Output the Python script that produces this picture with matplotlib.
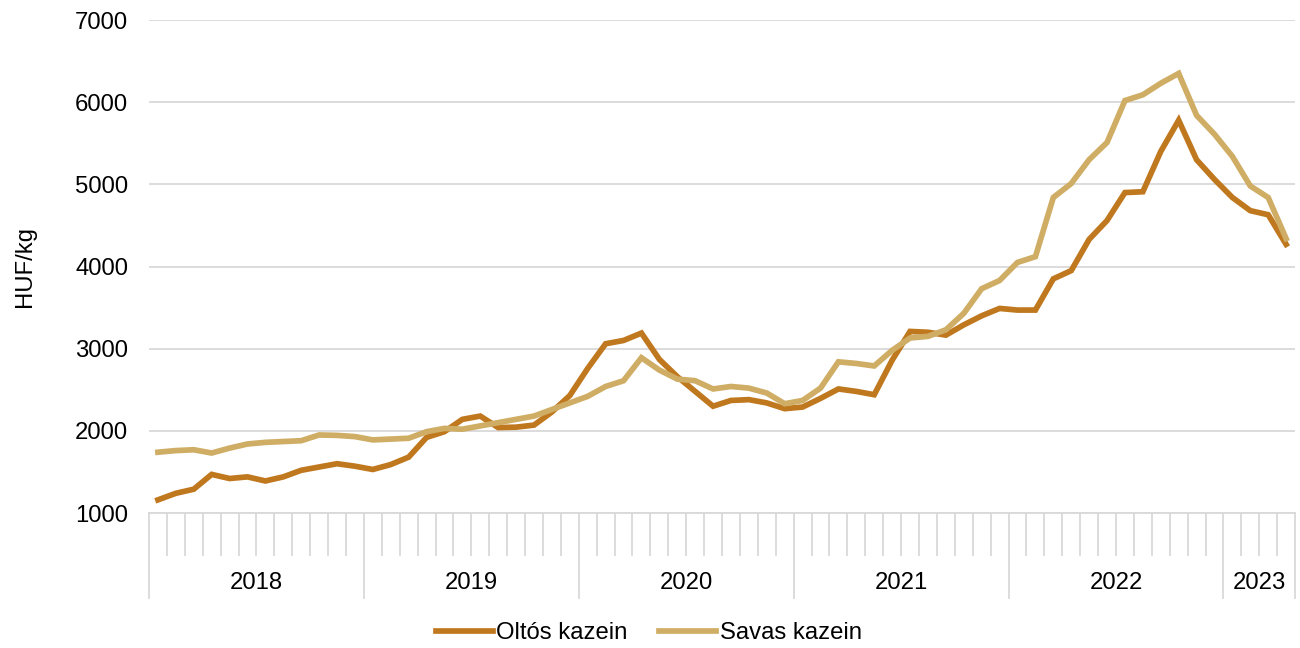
import numpy as np
import matplotlib
matplotlib.use("Agg")
import matplotlib.pyplot as plt
import matplotlib.transforms as mtransforms

plt.rcParams['font.family'] = ['Liberation Sans', 'DejaVu Sans']

# havi adatok, 2018 jan - 2023 apr
evek = ["2018", "2019", "2020", "2021", "2022", "2023"]
honapok_evente = [12, 12, 12, 12, 12, 4]

oltos = [1160, 1240, 1290, 1470, 1420, 1440, 1390, 1440, 1520, 1560, 1600, 1570,
         1530, 1590, 1680, 1920, 1990, 2140, 2180, 2040, 2045, 2070, 2230, 2430,
         2760, 3060, 3100, 3190, 2870, 2660, 2480, 2300, 2370, 2380, 2340, 2270,
         2290, 2395, 2510, 2480, 2440, 2860, 3210, 3200, 3165, 3290, 3400, 3490,
         3470, 3470, 3850, 3950, 4330, 4560, 4900, 4910, 5400, 5780, 5300, 5060,
         4840, 4680, 4630, 4270]

savas = [1740, 1760, 1770, 1730, 1790, 1840, 1860, 1870, 1880, 1950, 1945, 1930,
         1890, 1900, 1910, 1990, 2030, 2020, 2060, 2100, 2140, 2180, 2260, 2340,
         2420, 2540, 2610, 2890, 2740, 2630, 2610, 2510, 2540, 2520, 2460, 2330,
         2370, 2520, 2840, 2820, 2790, 2980, 3130, 3150, 3230, 3430, 3730, 3830,
         4050, 4120, 4840, 5010, 5300, 5510, 6020, 6090, 6230, 6350, 5840, 5610,
         5340, 4980, 4840, 4340]

sotet = "#C0781F"
vilagos = "#CFAD64"
racs = "#D9D9D9"
betu = 17.2

fig = plt.figure(figsize=(13, 6.48), dpi=100)
ax = fig.add_axes([0.1146, 0.2083, 0.8816, 0.7608])

n = len(oltos)
x = np.arange(n) + 0.5
ax.plot(x, oltos, color=sotet, lw=4.1, label="Oltós kazein", solid_joinstyle="miter")
ax.plot(x, savas, color=vilagos, lw=4.1, label="Savas kazein", solid_joinstyle="miter")

ax.set_xlim(0, n)
ax.set_ylim(1000, 7000)
ax.set_yticks(np.arange(1000, 7001, 1000))
ax.yaxis.grid(True, color=racs, lw=1.3)
ax.set_axisbelow(True)
for s in ["top", "right", "left"]:
    ax.spines[s].set_visible(False)
ax.spines["bottom"].set_color(racs)
ax.spines["bottom"].set_linewidth(1.3)
ax.tick_params(axis="y", length=0, pad=15, labelsize=betu)
ax.set_xticks([])
ax.set_ylabel("HUF/kg", fontsize=betu, labelpad=28)

# kategoria tengely: honap es ev elvalasztok
tr = mtransforms.blended_transform_factory(ax.transData, ax.transAxes)
hatarok = np.concatenate([[0], np.cumsum(honapok_evente)])
for i in range(n + 1):
    alja = -0.172 if i in hatarok else -0.085
    ax.plot([i, i], [0, alja], color=racs, lw=1.3, transform=tr, clip_on=False)
for k, ev in enumerate(evek):
    kozep = (hatarok[k] + hatarok[k + 1]) / 2
    ax.text(kozep, -0.142, ev, transform=tr, ha="center", va="center", fontsize=betu)

fig.legend(loc="center", bbox_to_anchor=(0.499, 0.023), ncol=2, frameon=False,
           fontsize=betu, handlelength=2.4, handletextpad=0.15, columnspacing=1.3)

fig.savefig("out.png", dpi=100)
